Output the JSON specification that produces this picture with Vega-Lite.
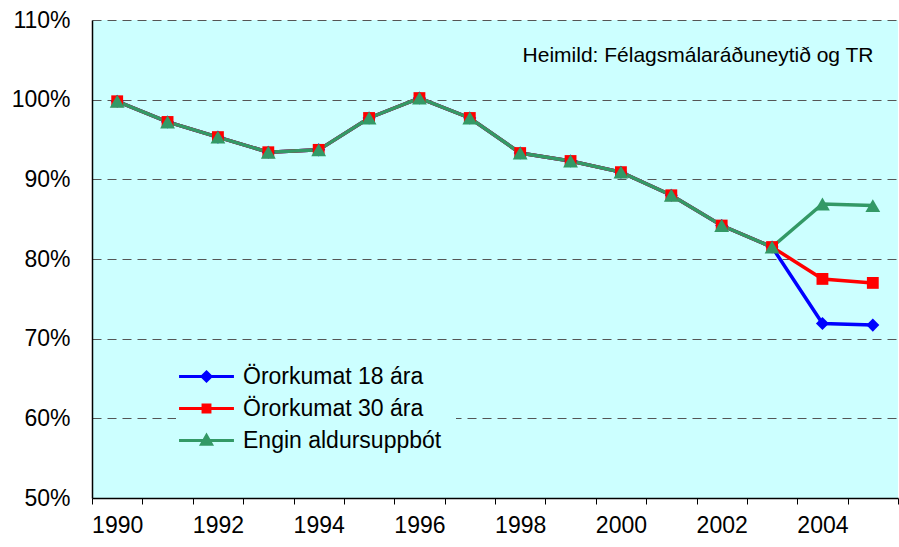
{
  "$schema": "https://vega.github.io/schema/vega-lite/v6.json",
  "width": 806,
  "height": 478,
  "autosize": {"type": "none"},
  "padding": {"left": 92, "top": 20, "right": 1, "bottom": 49},
  "config": {
    "font": "Liberation Sans",
    "view": {"fill": "#CCFFFF", "stroke": null}
  },
  "title": {
    "text": "Heimild: Félagsmálaráðuneytið og TR",
    "anchor": "end",
    "orient": "top",
    "offset": -57,
    "dx": -25,
    "fontSize": 21,
    "fontWeight": "normal",
    "font": "Liberation Sans",
    "color": "#000000"
  },
  "data": {
    "values": [
      {"year": "1990", "series": "Örorkumat 18 ára", "value": 99.8},
      {"year": "1991", "series": "Örorkumat 18 ára", "value": 97.2},
      {"year": "1992", "series": "Örorkumat 18 ára", "value": 95.3},
      {"year": "1993", "series": "Örorkumat 18 ára", "value": 93.4},
      {"year": "1994", "series": "Örorkumat 18 ára", "value": 93.7},
      {"year": "1995", "series": "Örorkumat 18 ára", "value": 97.7},
      {"year": "1996", "series": "Örorkumat 18 ára", "value": 100.2},
      {"year": "1997", "series": "Örorkumat 18 ára", "value": 97.7},
      {"year": "1998", "series": "Örorkumat 18 ára", "value": 93.3},
      {"year": "1999", "series": "Örorkumat 18 ára", "value": 92.3},
      {"year": "2000", "series": "Örorkumat 18 ára", "value": 90.9},
      {"year": "2001", "series": "Örorkumat 18 ára", "value": 88.0},
      {"year": "2002", "series": "Örorkumat 18 ára", "value": 84.2},
      {"year": "2003", "series": "Örorkumat 18 ára", "value": 81.5},
      {"year": "2004", "series": "Örorkumat 18 ára", "value": 71.9},
      {"year": "2005", "series": "Örorkumat 18 ára", "value": 71.7},
      {"year": "1990", "series": "Örorkumat 30 ára", "value": 99.8},
      {"year": "1991", "series": "Örorkumat 30 ára", "value": 97.2},
      {"year": "1992", "series": "Örorkumat 30 ára", "value": 95.3},
      {"year": "1993", "series": "Örorkumat 30 ára", "value": 93.4},
      {"year": "1994", "series": "Örorkumat 30 ára", "value": 93.7},
      {"year": "1995", "series": "Örorkumat 30 ára", "value": 97.7},
      {"year": "1996", "series": "Örorkumat 30 ára", "value": 100.2},
      {"year": "1997", "series": "Örorkumat 30 ára", "value": 97.7},
      {"year": "1998", "series": "Örorkumat 30 ára", "value": 93.3},
      {"year": "1999", "series": "Örorkumat 30 ára", "value": 92.3},
      {"year": "2000", "series": "Örorkumat 30 ára", "value": 90.9},
      {"year": "2001", "series": "Örorkumat 30 ára", "value": 88.0},
      {"year": "2002", "series": "Örorkumat 30 ára", "value": 84.2},
      {"year": "2003", "series": "Örorkumat 30 ára", "value": 81.5},
      {"year": "2004", "series": "Örorkumat 30 ára", "value": 77.5},
      {"year": "2005", "series": "Örorkumat 30 ára", "value": 77.0},
      {"year": "1990", "series": "Engin aldursuppbót", "value": 99.8},
      {"year": "1991", "series": "Engin aldursuppbót", "value": 97.2},
      {"year": "1992", "series": "Engin aldursuppbót", "value": 95.3},
      {"year": "1993", "series": "Engin aldursuppbót", "value": 93.4},
      {"year": "1994", "series": "Engin aldursuppbót", "value": 93.7},
      {"year": "1995", "series": "Engin aldursuppbót", "value": 97.7},
      {"year": "1996", "series": "Engin aldursuppbót", "value": 100.2},
      {"year": "1997", "series": "Engin aldursuppbót", "value": 97.7},
      {"year": "1998", "series": "Engin aldursuppbót", "value": 93.3},
      {"year": "1999", "series": "Engin aldursuppbót", "value": 92.3},
      {"year": "2000", "series": "Engin aldursuppbót", "value": 90.9},
      {"year": "2001", "series": "Engin aldursuppbót", "value": 88.0},
      {"year": "2002", "series": "Engin aldursuppbót", "value": 84.2},
      {"year": "2003", "series": "Engin aldursuppbót", "value": 81.5},
      {"year": "2004", "series": "Engin aldursuppbót", "value": 86.9},
      {"year": "2005", "series": "Engin aldursuppbót", "value": 86.7}
    ]
  },
  "encoding": {
    "x": {
      "field": "year",
      "type": "ordinal",
      "sort": null,
      "scale": {"type": "band", "paddingInner": 0, "paddingOuter": 0},
      "axis": {
        "title": null,
        "labelAngle": 0,
        "labelFontSize": 23,
        "labelColor": "#000000",
        "labelPadding": 10,
        "labelExpr": "toNumber(datum.value) % 2 == 0 ? datum.value : ''",
        "tickBand": "extent",
        "tickSize": 6,
        "tickColor": "#000000",
        "tickWidth": 1,
        "domainColor": "#000000",
        "domainWidth": 1.5,
        "grid": false
      }
    },
    "y": {
      "field": "value",
      "type": "quantitative",
      "scale": {"domain": [50, 110], "nice": false, "zero": false},
      "axis": {
        "title": null,
        "values": [50, 60, 70, 80, 90, 100, 110],
        "labelExpr": "datum.value + '%'",
        "labelFontSize": 23,
        "labelColor": "#000000",
        "labelPadding": 22,
        "ticks": false,
        "domainColor": "#000000",
        "domainWidth": 1.5,
        "grid": true,
        "gridColor": "#555555",
        "gridDash": [9, 6],
        "gridWidth": 1
      }
    }
  },
  "layer": [
    {
      "mark": {"type": "line", "strokeWidth": 3.5},
      "encoding": {
        "color": {
          "field": "series",
          "type": "nominal",
          "sort": ["Örorkumat 18 ára", "Örorkumat 30 ára", "Engin aldursuppbót"],
          "scale": {
            "domain": ["Örorkumat 18 ára", "Örorkumat 30 ára", "Engin aldursuppbót"],
            "range": ["#0000FF", "#FF0000", "#339966"]
          },
          "legend": {
            "title": null,
            "orient": "none",
            "legendX": 84,
            "legendY": 326,
            "padding": 14,
            "fillColor": "#CCFFFF",
            "labelFontSize": 23,
            "labelColor": "#000000",
            "labelOffset": 20,
            "rowPadding": 3,
            "symbolSize": 900,
            "symbolStrokeWidth": 3,
            "symbolOpacity": 1,
            "labelLimit": 400,
            "encode": {
              "symbols": {
                "update": {
                  "shape": {"signal": "datum.value == 'Örorkumat 18 ára' ? 'M-1.83,0H1.83M0,-0.3L0.3,0L0,0.3L-0.3,0Z' : datum.value == 'Örorkumat 30 ára' ? 'M-1.83,0H1.83M-0.23,-0.23H0.23V0.23H-0.23Z' : 'M-1.83,0H1.83M0,-0.33L0.33,0.25H-0.33Z'"},
                  "fill": {"signal": "datum.value == 'Örorkumat 18 ára' ? '#0000FF' : datum.value == 'Örorkumat 30 ára' ? '#FF0000' : '#339966'"},
                  "stroke": {"signal": "datum.value == 'Örorkumat 18 ára' ? '#0000FF' : datum.value == 'Örorkumat 30 ára' ? '#FF0000' : '#339966'"},
                  "opacity": {"value": 1}
                }
              }
            }
          }
        }
      }
    },
    {
      "transform": [{"filter": "datum.series == 'Örorkumat 18 ára'"}],
      "mark": {"type": "point", "filled": true, "opacity": 1, "shape": "diamond", "size": 170, "color": "#0000FF"}
    },
    {
      "transform": [{"filter": "datum.series == 'Örorkumat 30 ára'"}],
      "mark": {"type": "point", "filled": true, "opacity": 1, "shape": "square", "size": 140, "color": "#FF0000"}
    },
    {
      "transform": [{"filter": "datum.series == 'Engin aldursuppbót'"}],
      "mark": {"type": "point", "filled": true, "opacity": 1, "shape": "triangle-up", "size": 220, "color": "#339966"}
    }
  ]
}
